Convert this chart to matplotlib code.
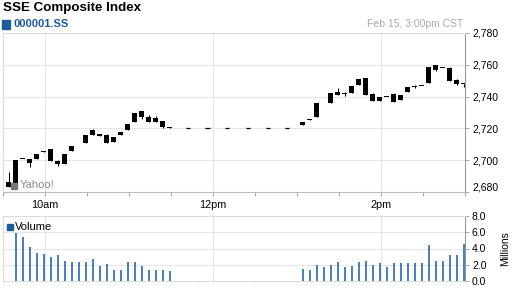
import numpy as np
import matplotlib
matplotlib.use('Agg')
import matplotlib.pyplot as plt
from matplotlib.patches import Rectangle

plt.rcParams['font.family'] = ['Liberation Sans', 'DejaVu Sans']

#Data: 5-minute candles, x = minutes after 9:30#
nan = np.nan
am_time = 4 + 5 * np.arange(24)
am_open = [2686.5, 2683.4, 2700.8, 2700.9, 2701.0, 2704.9, 2707.2, 2699.8, 2697.7, 2705.5, nan, 2710.6,
           2715.7, 2715.0, 2715.7, 2711.5, 2715.7, 2718.8, 2723.9, 2730.8, 2727.1, 2726.4, 2724.9, 2720.6]
am_close = [2683.0, 2700.3, 2700.8, 2698.5, 2703.9, 2706.0, 2699.2, 2697.7, 2704.0, 2708.7, nan, 2716.1,
            2718.8, 2716.3, 2710.6, 2714.6, 2718.0, 2722.8, 2729.4, 2727.1, 2724.3, 2723.9, 2720.7, 2720.4]
am_high = [2692.8, 2700.3, 2700.8, 2700.9, 2703.9, 2706.0, 2707.2, 2700.3, 2704.0, 2708.7, nan, 2716.1,
           2719.9, 2716.3, 2716.7, 2714.6, 2718.0, 2722.8, 2729.4, 2730.8, 2728.3, 2727.9, 2724.9, 2720.9]
am_low = [2683.0, 2683.4, 2700.8, 2696.0, 2701.0, 2704.9, 2699.2, 2696.5, 2697.7, 2705.5, nan, 2710.6,
          2715.7, 2715.0, 2710.6, 2711.5, 2715.7, 2718.8, 2723.9, 2726.2, 2724.3, 2723.9, 2720.1, 2720.0]
am_vol = [nan, 5.9, 5.4, 4.2, 3.5, 3.3, 3.0, 3.2, 2.5, 2.4, 2.4, 2.3,
          2.7, 1.9, 2.1, 1.4, 1.4, 2.3, 2.3, 1.8, 1.4, 1.4, 1.4, 1.2]

pm_time = 214 + 5 * np.arange(24)
pm_open = [2724.3, 2726.2, 2735.7, nan, 2742.0, 2742.7, 2741.8, 2746.5, 2750.9, 2751.5, 2741.4, 2739.6,
           2739.9, 2741.4, 2741.2, 2746.0, 2746.3, 2746.5, 2758.9, 2759.6, 2757.7, 2758.1, 2750.5, 2748.0]
pm_close = [2722.0, 2725.1, 2727.1, nan, 2735.9, 2741.0, 2741.8, 2742.0, 2747.1, 2741.0, 2737.2, 2737.4,
            2739.9, 2736.8, 2738.0, 2743.1, 2746.3, 2746.5, 2748.4, 2756.8, 2757.7, 2749.8, 2748.0, 2748.0]
pm_high = [2724.3, 2726.2, 2735.7, nan, 2742.0, 2745.2, 2743.1, 2746.5, 2750.9, 2751.5, 2742.0, 2739.6,
           2739.9, 2742.0, 2741.2, 2746.0, 2747.1, 2746.5, 2758.9, 2759.6, 2757.7, 2758.7, 2751.1, 2748.0]
pm_low = [2722.0, 2725.1, 2727.1, nan, 2735.9, 2741.0, 2740.3, 2742.0, 2747.1, 2741.0, 2737.2, 2737.4,
          2739.9, 2736.8, 2738.0, 2743.1, 2745.5, 2746.5, 2748.4, 2756.2, 2757.7, 2749.8, 2747.4, 2746.0]
pm_vol = [1.5, 1.3, 2.0, 1.7, 2.0, 2.4, 1.7, 1.9, 2.4, 2.5, 2.0, 2.2,
          1.7, 2.2, 2.2, 2.2, 2.2, 2.2, 4.4, 2.5, 2.5, 3.2, 3.2, 4.5]

lunch_time = [132, 146, 160, 175, 189, 203]
lunch_price = [2720.2] * 6

price_ticks = [2680, 2700, 2720, 2740, 2760, 2780]
vol_ticks = [0, 2, 4, 6, 8]
time_ticks = [30, 150, 270]
time_labels = ['10am', '12pm', '2pm']
#/Data#

t = np.concatenate([am_time, pm_time])
o = np.array(am_open + pm_open)
c = np.array(am_close + pm_close)
hi = np.array(am_high + pm_high)
lo = np.array(am_low + pm_low)
vol = np.array(am_vol + pm_vol)

W, H = 512, 288
fig = plt.figure(figsize=(W / 100, H / 100), dpi=100)
def box(l, t_, r, b):
    return [l / W, 1 - b / H, (r - l) / W, (b - t_) / H]

grid_c = '#e3e7ec'
light = '#dcdcdc'
dark = '#999999'
blue = '#1f5a96'

#Price panel#
ax = fig.add_axes(box(3, 33, 465, 192))
ax.set_xlim(0, 330)
ax.set_ylim(2680, 2780)
for p in price_ticks[1:-1]:
    ax.axhline(p, color=grid_c, lw=0.8, zorder=0)
for tt in time_ticks:
    ax.axvline(tt, color=grid_c, lw=0.8, zorder=0)

ok = ~np.isnan(o)
ax.vlines(t[ok], lo[ok], hi[ok], color='black', lw=0.75, zorder=3)
bot = np.minimum(o, c)
hgt = np.maximum(np.abs(o - c), 0.65)
ax.bar(t[ok], hgt[ok], bottom=bot[ok], width=3.1, color='black', lw=0, zorder=3)
ax.hlines(lunch_price, np.array(lunch_time) - 1.5, np.array(lunch_time) + 1.5, color='black', lw=0.9)

ax.yaxis.tick_right()
ax.set_yticks(price_ticks)
ax.set_yticklabels(['{:,}'.format(p) for p in price_ticks])
ax.get_yticklabels()[0].set_verticalalignment('bottom')
ax.tick_params(axis='y', length=3, width=0.6, color=dark, pad=2, labelsize=7.5)
ax.set_xticks(time_ticks)
ax.set_xticklabels(time_labels)
ax.set_xticks(np.arange(0, 331, 30), minor=True)
ax.tick_params(axis='x', which='both', length=3, width=0.6, color=dark, pad=2.5, labelsize=7.8)
for s in ['left', 'top']:
    ax.spines[s].set_color(light)
    ax.spines[s].set_linewidth(0.8)
ax.spines['right'].set_color(dark)
ax.spines['bottom'].set_color('#bbbbbb')
for s in ['right', 'bottom']:
    ax.spines[s].set_linewidth(0.8)
ax.text(12, 2681.5, 'Yahoo!', color='#888888', fontsize=8, va='bottom')
ax.plot([7.5], [2683.5], marker='s', ms=4, color='#777777', zorder=4)

#Volume panel#
axv = fig.add_axes(box(3, 216, 465, 281))
axv.set_xlim(0, 330)
axv.set_ylim(0, 8)
for v in vol_ticks[1:-1]:
    axv.axhline(v, color=grid_c, lw=0.8, zorder=0)
for tt in time_ticks:
    axv.axvline(tt, color=grid_c, lw=0.8, zorder=0)
okv = ~np.isnan(vol)
axv.vlines(t[okv], 0, vol[okv], color=blue, lw=1.1, zorder=3)
axv.yaxis.tick_right()
axv.set_yticks(vol_ticks)
axv.set_yticklabels(['{:.1f}'.format(v) for v in vol_ticks])
axv.tick_params(axis='y', length=3, width=0.6, color=dark, pad=2, labelsize=7.5)
axv.set_xticks(np.arange(0, 331, 10))
axv.set_xticklabels([])
axv.tick_params(axis='x', length=2, width=0.5, color='#e6e6e6')
for s in ['left', 'top', 'bottom']:
    axv.spines[s].set_color(light)
    axv.spines[s].set_linewidth(0.8)
axv.spines['right'].set_color(dark)
axv.spines['right'].set_linewidth(0.8)
axv.set_ylabel('Millions', fontsize=7.5, labelpad=10)
axv.yaxis.set_label_position('right')
fig.patches.append(Rectangle((7 / W, 1 - 229.5 / H), 6 / W, 6 / H, color=blue, transform=fig.transFigure))
fig.text(15 / W, 1 - 226.5 / H, 'Volume', color='black', fontsize=8, va='center')

#Header#
fig.text(3 / W, 1 - 8 / H, 'SSE Composite Index', fontsize=9.6, fontweight='bold', va='center')
fig.patches.append(Rectangle((2 / W, 1 - 28.5 / H), 8 / W, 8 / H, color=blue, transform=fig.transFigure))
fig.text(13 / W, 1 - 24 / H, '000001.SS', fontsize=8, fontweight='bold', color=blue, va='center')
fig.text(463 / W, 1 - 24 / H, 'Feb 15, 3:00pm CST', fontsize=7.5, color='#aaaaaa', va='center', ha='right')

fig.savefig('out.png', dpi=100)
